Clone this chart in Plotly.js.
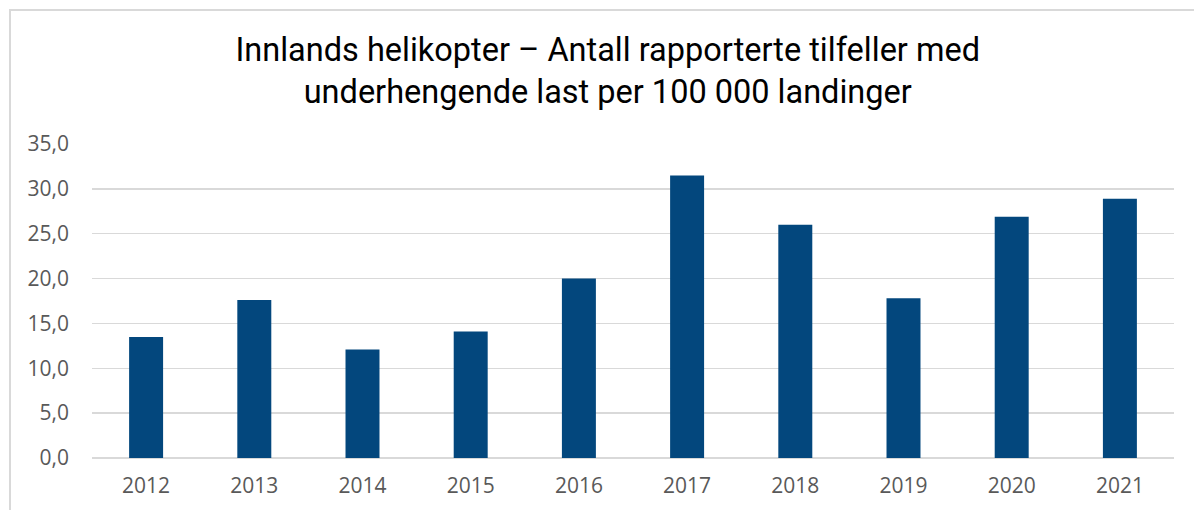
<!DOCTYPE html>
<html>
<head>
<meta charset="utf-8">
<script src="https://cdn.plot.ly/plotly-3.0.1.min.js"></script>
<style>
  html, body { margin: 0; padding: 0; background: #fff; }
  #frame { position: absolute; left: 9px; top: 9px; width: 1200px; height: 520px;
           border-left: 2px solid #d9d9d9; border-top: 2px solid #d9d9d9; }
  #chart { position: absolute; left: 0; top: 0; width: 1194px; height: 510px; }
</style>
</head>
<body>
<div id="frame"></div>
<div id="chart"></div>
<script>
'use strict';

const years = ['2012', '2013', '2014', '2015', '2016', '2017', '2018', '2019', '2020', '2021'];
const casesPer100k = [13.5, 17.6, 12.1, 14.1, 20.0, 31.5, 26.0, 17.8, 26.9, 28.9];
const yTicks = [0, 5, 10, 15, 20, 25, 30, 35];
const yTickText = ['0,0', '5,0', '10,0', '15,0', '20,0', '25,0', '30,0', '35,0'];

const tickFont = { family: 'Open Sans, sans-serif', size: 21, color: '#595959' };

Plotly.newPlot('chart', [{
    x: years, y: casesPer100k, type: 'bar',
    marker: { color: '#03477d', line: { width: 0 } },
    hoverinfo: 'x+y',
}], {
    width: 1194, height: 510,
    paper_bgcolor: 'rgba(0,0,0,0)', plot_bgcolor: 'rgba(0,0,0,0)',
    margin: { l: 92, r: 20, t: 144, b: 52 },
    bargap: 0.686,
    showlegend: false,
    title: {
        text: 'Innlands helikopter – Antall rapporterte tilfeller med<br>underhengende last per 100 000 landinger',
        font: { family: 'Roboto, sans-serif', size: 32.5, color: '#000' },
        xref: 'container', x: 0.509, xanchor: 'center',
        yref: 'container', y: 0.88, yanchor: 'top',
    },
    xaxis: {
        type: 'category', tickfont: tickFont, ticklabelstandoff: 13,
        showgrid: false, showline: false, ticks: '',
    },
    yaxis: {
        range: [0, 35], tickvals: yTicks, ticktext: yTickText, tickfont: tickFont,
        ticklabelstandoff: 22, showgrid: true, gridcolor: '#d9d9d9', gridwidth: 1.5,
        zeroline: true, zerolinecolor: '#d9d9d9', zerolinewidth: 1.5, showline: false, ticks: '',
    },
}, { displayModeBar: false, staticPlot: true });
</script>
</body>
</html>
